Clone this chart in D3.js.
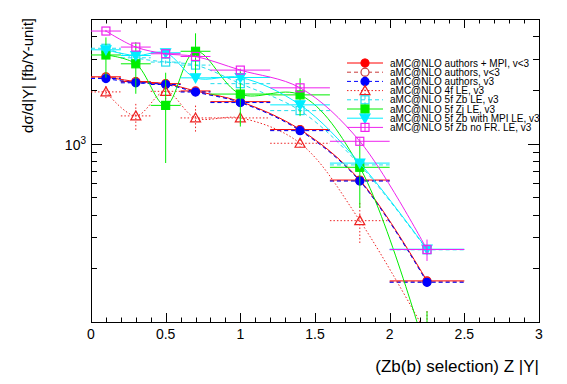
<!DOCTYPE html>
<html lang="en">
<head>
<meta charset="UTF-8">
<title>Zb |Y| distribution</title>
<script src="https://d3js.org/d3.v7.min.js"></script>
<style>
  body { margin: 0; background: #fff; }
  svg text { font-family: "Liberation Sans", Arial, sans-serif; }
</style>
</head>
<body>
<div id="chart"></div>
<script>
// bin centres and half widths
var binCenters = [0.1, 0.3, 0.5, 0.7, 1.0, 1.4, 1.8, 2.25];
var binHalfWidths = [0.1, 0.1, 0.1, 0.1, 0.2, 0.2, 0.2, 0.25];

// series values
var authorsMpiV3lt = [2370, 2230, 2170, 1975, 1720, 1200, 625, 170];
var authorsMpiErr = [30, 30, 30, 30, 25, 20, 12, 5];
var authorsV3lt = [2355, 2215, 2160, 1960, 1710, 1190, 620, 168];
var authorsV3ltErr = [30, 30, 30, 30, 25, 20, 12, 5];
var authorsV3 = [2318, 2193, 2146, 1947, 1700, 1183, 617, 167];
var authorsV3Err = [30, 30, 30, 30, 25, 20, 12, 5];
var fourFlavLE = [1951, 1431, 1965, 1394, 1394, 1005, 370, 85];
var fourFlavErr = [150, 240, 200, 240, 100, 50, 95, 30];
var fiveZbLE = [3426, 3030, 2867, 2757, 2170, 1532, 760, 254];
var fiveZbErr = [60, 60, 60, 60, 40, 30, 20, 10];
var fiveZjLE = [3142, 2804, 1639, 3296, 1897, 1877, 737, 65];
var fiveZjErr = [800, 900, 860, 860, 650, 450, 300, 50];
var fiveZbMpiLE = [3360, 3120, 3233, 2339, 2350, 1650, 778, 256];
var fiveZbMpiErr = [60, 60, 60, 60, 40, 30, 20, 10];
var fiveZbNoFR = [4280, 3480, 3192, 3082, 2585, 2056, 1031, 255];
var fiveZbNoFRErr = [60, 60, 60, 60, 50, 40, 40, 35];

var legendLabels = [
  "aMC@NLO authors + MPI, v<3",
  "aMC@NLO authors, v<3",
  "aMC@NLO authors, v3",
  "aMC@NLO 4f LE, v3",
  "aMC@NLO 5f Zb LE, v3",
  "aMC@NLO 5f Zj LE, v3",
  "aMC@NLO 5f Zb with MPI LE, v3",
  "aMC@NLO 5f Zb no FR. LE, v3"
];

var series = [
  { values: authorsMpiV3lt, errs: authorsMpiErr, color: "#ff0000", dash: null, marker: "circle", fill: true },
  { values: authorsV3lt, errs: authorsV3ltErr, color: "#c83c3c", dash: "4,3", marker: "circle", fill: false },
  { values: authorsV3, errs: authorsV3Err, color: "#0000ff", dash: "4,3", marker: "circle", fill: true },
  { values: fourFlavLE, errs: fourFlavErr, color: "#ee2222", dash: "1.5,2", marker: "triangle", fill: false },
  { values: fiveZbLE, errs: fiveZbErr, color: "#22ddee", dash: "4,3", marker: "square", fill: false },
  { values: fiveZjLE, errs: fiveZjErr, color: "#00ee00", dash: null, marker: "square", fill: true },
  { values: fiveZbMpiLE, errs: fiveZbMpiErr, color: "#00eeff", dash: null, marker: "triangleDown", fill: true },
  { values: fiveZbNoFR, errs: fiveZbNoFRErr, color: "#ee22ee", dash: null, marker: "square", fill: false }
];
series.forEach(function(s, i) { s.label = legendLabels[i]; });

var W = 567, H = 384;
var margin = { left: 91, right: 28, top: 19, bottom: 62 };

var svg = d3.select("#chart").append("svg").attr("width", W).attr("height", H);

var x = d3.scaleLinear().domain([0, 3]).range([margin.left, W - margin.right]);
var y = d3.scaleLog().domain([100, 5000]).range([H - margin.bottom, margin.top]);

svg.append("defs").append("clipPath").attr("id", "clip")
  .append("rect")
  .attr("x", margin.left).attr("y", margin.top)
  .attr("width", W - margin.left - margin.right)
  .attr("height", H - margin.top - margin.bottom);

// axes (ticks on all four sides, ROOT style)
var xMajor = d3.range(0, 3.001, 0.5);
var xMinor = d3.range(0, 3.001, 0.1);
var yMinor = [200, 300, 400, 500, 600, 700, 800, 900, 2000, 3000, 4000];

var axisG = svg.append("g").attr("stroke", "#000").attr("stroke-width", 1);
var x0 = margin.left, x1 = W - margin.right, y0 = H - margin.bottom, y1 = margin.top;

xMinor.forEach(function(v) {
  var major = xMajor.some(function(m) { return Math.abs(m - v) < 1e-6; });
  var len = major ? 9 : 4.5;
  var px = Math.round(x(v)) + 0.5;
  axisG.append("line").attr("x1", px).attr("x2", px).attr("y1", y0).attr("y2", y0 - len);
  axisG.append("line").attr("x1", px).attr("x2", px).attr("y1", y1).attr("y2", y1 + len);
});
yMinor.concat([1000]).forEach(function(v) {
  var len = v === 1000 ? 11 : 6;
  var py = Math.round(y(v)) + 0.5;
  axisG.append("line").attr("x1", x0).attr("x2", x0 + len).attr("y1", py).attr("y2", py);
  axisG.append("line").attr("x1", x1).attr("x2", x1 - len).attr("y1", py).attr("y2", py);
});
svg.append("rect")
  .attr("x", x0 + 0.5).attr("y", y1 + 0.5)
  .attr("width", x1 - x0).attr("height", y0 - y1)
  .attr("fill", "none").attr("stroke", "#000");

svg.selectAll(".xlab").data(xMajor).enter().append("text")
  .attr("x", function(d) { return x(d); })
  .attr("y", y0 + 17)
  .attr("text-anchor", "middle")
  .attr("font-size", 14)
  .text(function(d) { return d3.format("~g")(d); });

var ylab = svg.append("text").attr("x", x0 - 5).attr("y", y(1000) + 6)
  .attr("text-anchor", "end").attr("font-size", 14);
ylab.append("tspan").text("10");
ylab.append("tspan").attr("dy", -6).attr("font-size", 10).text("3");

svg.append("text")
  .attr("x", x1).attr("y", y0 + 50)
  .attr("text-anchor", "end").attr("font-size", 17)
  .text("(Zb(b) selection) Z |Y|");

svg.append("text")
  .attr("transform", "translate(33," + (y1 - 1) + ") rotate(-90)")
  .attr("text-anchor", "end").attr("font-size", 15)
  .text("dσ/d|Y| [fb/Y-unit]");

// marker drawing
function drawMarker(g, s, cx, cy) {
  var fill = s.fill ? s.color : "none";
  if (s.marker === "circle") {
    g.append("circle").attr("cx", cx).attr("cy", cy).attr("r", 4)
      .attr("fill", s.fill ? s.color : "#fff").attr("stroke", s.color).attr("stroke-width", 1.2);
  } else if (s.marker === "square") {
    g.append("rect").attr("x", cx - 4).attr("y", cy - 4).attr("width", 8).attr("height", 8)
      .attr("fill", fill).attr("stroke", s.color).attr("stroke-width", 1.2);
  } else if (s.marker === "triangle") {
    g.append("path").attr("d", "M" + cx + "," + (cy - 5) + "L" + (cx + 5) + "," + (cy + 4) + "L" + (cx - 5) + "," + (cy + 4) + "Z")
      .attr("fill", fill).attr("stroke", s.color).attr("stroke-width", 1.2);
  } else if (s.marker === "triangleDown") {
    g.append("path").attr("d", "M" + cx + "," + (cy + 5) + "L" + (cx + 5) + "," + (cy - 4) + "L" + (cx - 5) + "," + (cy - 4) + "Z")
      .attr("fill", fill).attr("stroke", s.color).attr("stroke-width", 1.2);
  }
}

var plotG = svg.append("g").attr("clip-path", "url(#clip)");
var line = d3.line()
  .x(function(d) { return x(d[0]); })
  .y(function(d) { return y(Math.max(d[1], 1)); })
  .curve(d3.curveCatmullRom.alpha(0.5));

series.forEach(function(s) {
  var g = plotG.append("g");
  var pts = binCenters.map(function(c, i) { return [c, s.values[i]]; });
  g.append("path").attr("d", line(pts))
    .attr("fill", "none").attr("stroke", s.color).attr("stroke-width", 1)
    .attr("stroke-dasharray", s.dash);
  pts.forEach(function(p, i) {
    var cy = y(p[1]);
    g.append("line")
      .attr("x1", x(p[0] - binHalfWidths[i])).attr("x2", x(p[0] + binHalfWidths[i]))
      .attr("y1", cy).attr("y2", cy)
      .attr("stroke", s.color).attr("stroke-dasharray", s.dash);
    g.append("line")
      .attr("x1", x(p[0])).attr("x2", x(p[0]))
      .attr("y1", y(p[1] + s.errs[i])).attr("y2", y(Math.max(p[1] - s.errs[i], 1)))
      .attr("stroke", s.color).attr("stroke-dasharray", s.dash);
    drawMarker(g, s, x(p[0]), cy);
  });
});

// legend
var leg = svg.append("g");
series.forEach(function(s, i) {
  var ly = 63 + i * 9.2;
  leg.append("line").attr("x1", 347).attr("x2", 383).attr("y1", ly).attr("y2", ly)
    .attr("stroke", s.color).attr("stroke-dasharray", s.dash);
  leg.append("line").attr("x1", 365).attr("x2", 365).attr("y1", ly - 4.5).attr("y2", ly + 4.5)
    .attr("stroke", s.color).attr("stroke-dasharray", s.dash);
  drawMarker(leg, s, 365, ly);
  leg.append("text").attr("x", 390).attr("y", ly + 3.5)
    .attr("font-size", 10).text(s.label);
});
</script>
</body>
</html>
